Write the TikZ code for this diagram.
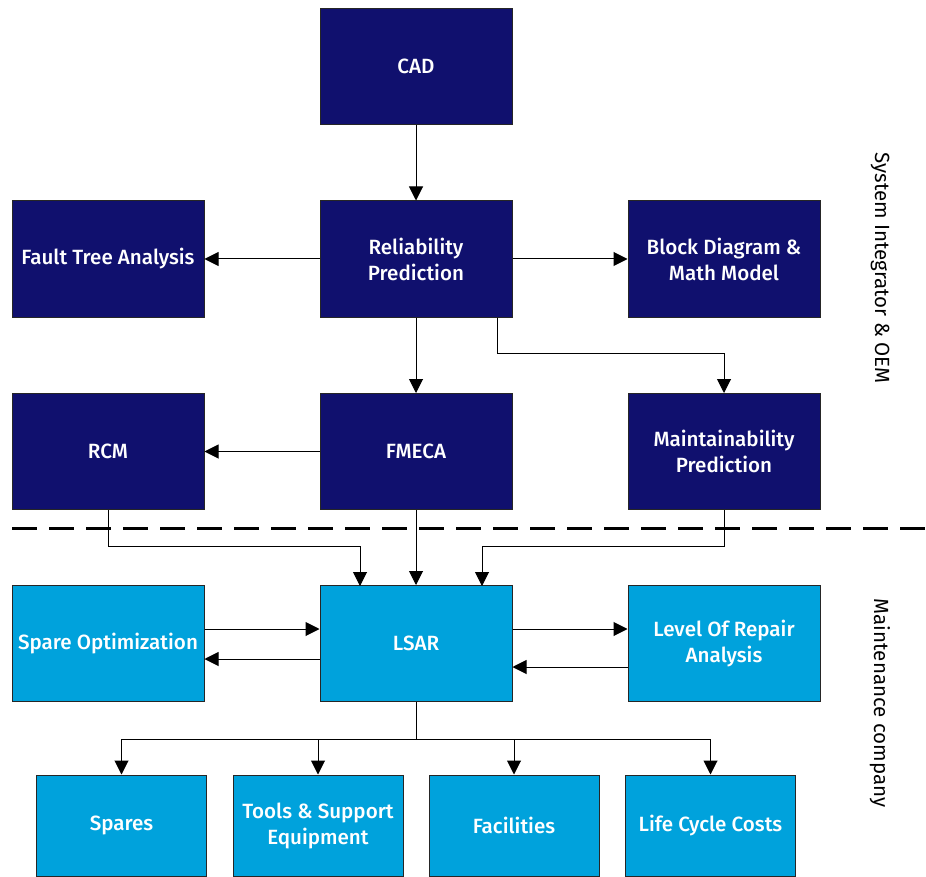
\documentclass[tikz,border=0pt]{standalone}
\usepackage{fontspec}
\setmainfont{Fira Sans}
\newfontfamily\boxfont{Fira Sans Medium}
\usetikzlibrary{arrows.meta}
\definecolor{navy}{HTML}{10106E}
\definecolor{sky}{HTML}{00A2DC}
\begin{document}
\begin{tikzpicture}[x=1pt,y=-1pt,
  box/.style={draw=black!85,line width=1pt,minimum width=192pt,minimum height=116pt,
    inner sep=0pt,text=white,align=center,
    font=\boxfont\fontsize{20.6}{26}\selectfont},
  oem/.style={box,fill=navy},
  mnt/.style={box,fill=sky},
  small/.style={mnt,minimum width=170pt,minimum height=101pt},
  link/.style={line width=1pt,-{Triangle[length=14pt,width=14pt]}},
  side/.style={rotate=-90,font=\fontsize{20.5}{24}\selectfont}]
\useasboundingbox (0,0) rectangle (926,877);
% system integrator layer
\node[oem] (cad) at (416,66.5) {CAD};
\node[oem] (fta) at (108,259) {Fault Tree Analysis};
\node[oem] (rp)  at (416,259) {Reliability\\Prediction};
\node[oem] (bd)  at (724,259) {Block Diagram \&\\Math Model};
\node[oem] (rcm) at (108,451.5) {RCM};
\node[oem] (fm)  at (416,451.5) {FMECA};
\node[oem] (mp)  at (724,451.5) {Maintainability\\Prediction};
% maintenance layer
\node[mnt] (so)   at (108,643.5) {Spare Optimization};
\node[mnt] (lsar) at (416,643.5) {LSAR};
\node[mnt] (lora) at (724,643.5) {Level Of Repair\\Analysis};
\node[small] (sp)  at (121.5,825.5) {Spares};
\node[small] (ts)  at (318,825.5) {Tools \& Support\\Equipment};
\node[small] (fa)  at (514,825.5) {Facilities};
\node[small] (lcc) at (710.5,825.5) {Life Cycle Costs};
% boundary between the two parties
\coordinate (dl) at (12,528);
\coordinate (dr) at (926,528);
\draw[line width=3pt,dash pattern=on 25pt off 12pt] (dl) -- (dr);
\node[side] (s1) at (880,268) {System Integrator \& OEM};
\node[side] (s2) at (880,703) {Maintenance company};
% connectors
\draw[link] (cad) -- (rp);
\draw[link] (rp) -- (fta);
\draw[link] (rp) -- (bd);
\draw[link] (rp) -- (fm);
\draw[link] (rp.south east) ++(-15,0) |- (724,353) -- (mp.north);
\draw[link] (fm) -- (rcm);
\draw[link] (rcm.south) |- (360,546) -- (360,586);
\draw[link] (fm) -- (lsar);
\draw[link] (mp.south) |- (482,546) -- (482,586);
\draw[link] (so.east |- 0,629) -- (lsar.west |- 0,629);
\draw[link] (lsar.west |- 0,659) -- (so.east |- 0,659);
\draw[link] (lsar.east |- 0,629) -- (lora.west |- 0,629);
\draw[link] (lora.west |- 0,667) -- (lsar.east |- 0,667);
\coordinate (hub) at (416,739);
\draw[line width=1pt] (lsar.south) -- (hub);
\draw[line width=1pt] (sp.north |- hub) -- (lcc.north |- hub);
\draw[link] (sp.north |- hub) -- (sp.north);
\draw[link] (ts.north |- hub) -- (ts.north);
\draw[link] (fa.north |- hub) -- (fa.north);
\draw[link] (lcc.north |- hub) -- (lcc.north);
\end{tikzpicture}
\end{document}
